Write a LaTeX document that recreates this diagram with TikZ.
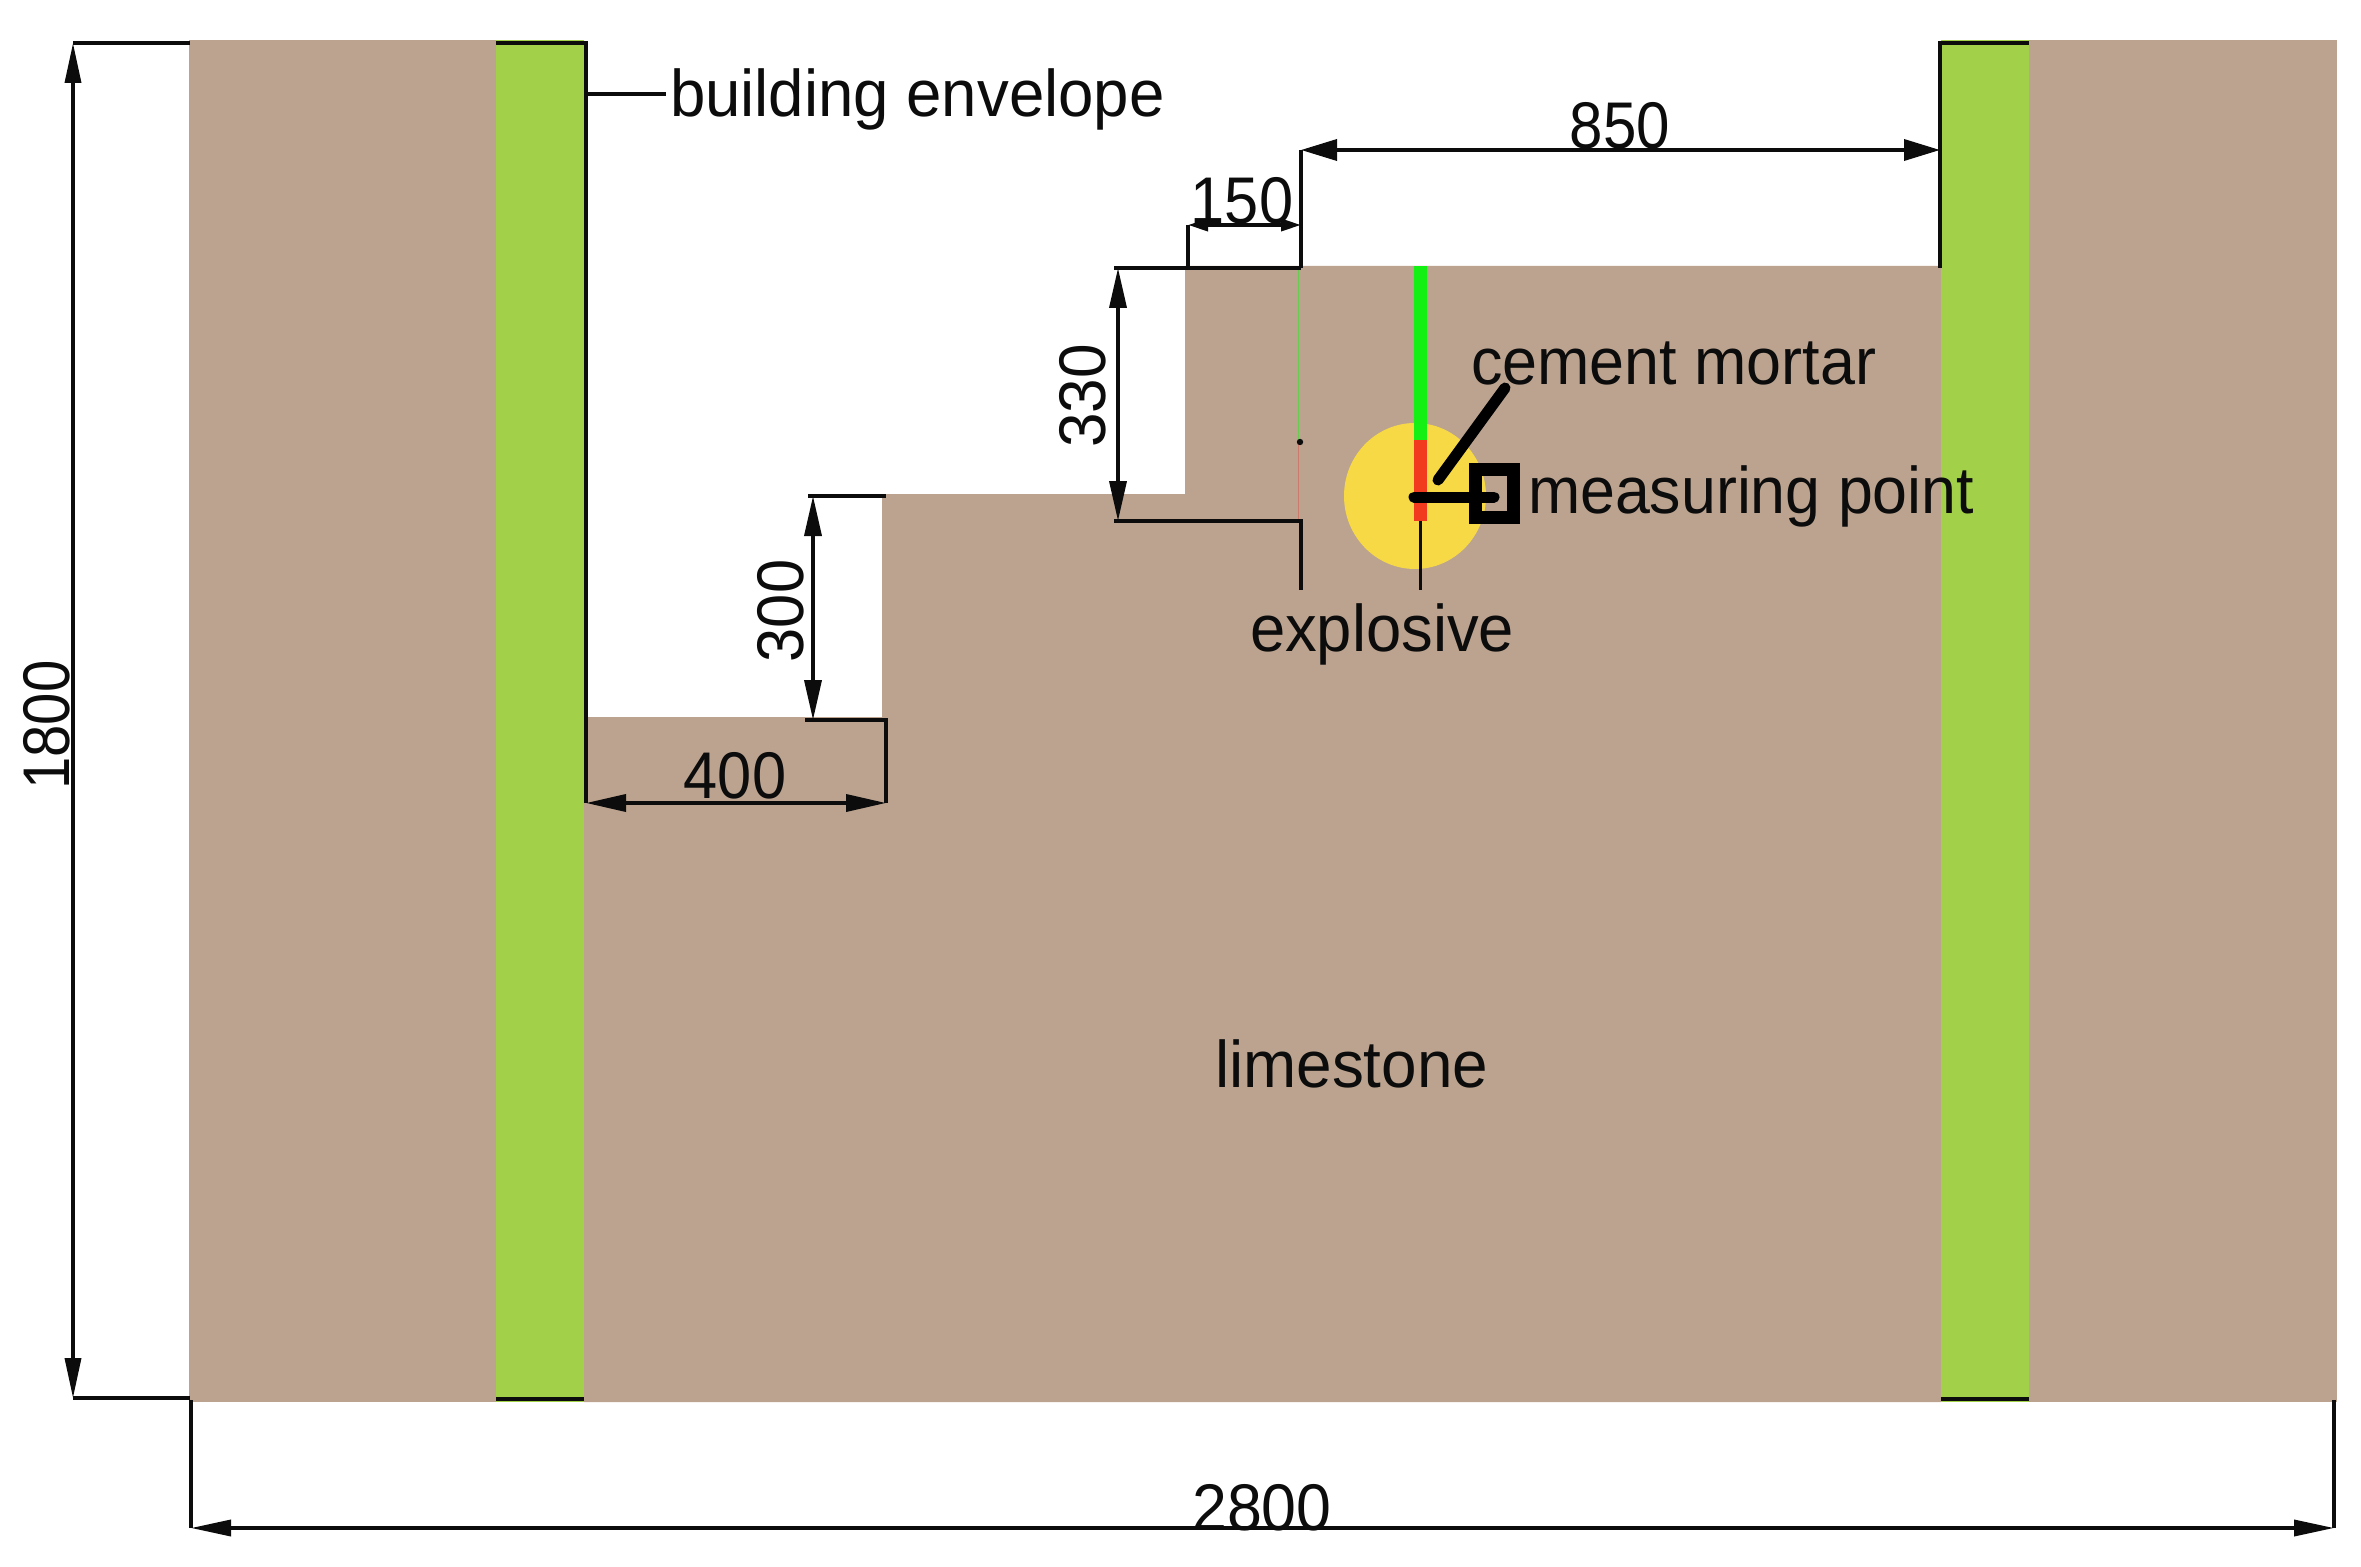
\documentclass[tikz,border=0pt]{standalone}
\usepackage{fontspec}
\setmainfont{Liberation Sans}
\usetikzlibrary{arrows.meta}
\definecolor{rock}{HTML}{BBA38F}
\definecolor{wall}{HTML}{A2D149}
\definecolor{charge}{HTML}{F7D945}
\definecolor{stemg}{HTML}{14F014}
\definecolor{stemr}{HTML}{F23A1E}
\definecolor{ink}{HTML}{0C0C0C}
\tikzset{
  dimline/.style={draw=ink,line width=1.8pt},
  dimbig/.style={dimline,{Triangle[length=20pt,width=8.5pt]}-{Triangle[length=20pt,width=8.5pt]}},
  dimwide/.style={dimline,{Triangle[length=18pt,width=10.5pt]}-{Triangle[length=18pt,width=10.5pt]}},
  dimsmall/.style={dimline,{Triangle[length=10pt,width=6pt]}-{Triangle[length=10pt,width=6pt]}},
  edgeline/.style={draw=ink,line width=2.2pt},
  thick leader/.style={draw=black,line width=5.5pt,line cap=round},
  lab/.style={inner sep=0pt,outer sep=0pt,text=ink,font=\fontsize{33}{40}\selectfont},
}
\newcommand{\sx}[2]{\scalebox{#1}[1]{#2}}
\begin{document}
\begin{tikzpicture}[x=0.5pt,y=-0.5pt]
\useasboundingbox (0,0) rectangle (2361,1567);
% rock
\fill[rock] (189,40) rectangle (496,1402);
\fill[rock] (584,717) -- (882,717) -- (882,494) -- (1185,494) -- (1185,266) -- (1941,266) -- (1941,1402) -- (584,1402) -- cycle;
\fill[rock] (2029,40) rectangle (2337,1402);
% walls
\fill[wall] (496,40) rectangle (584,1402);
\fill[wall] (1941,40) rectangle (2029,1402);
% faint construction line
\draw[line width=0.5pt,draw=green!45!rock] (1298,268) -- (1298,440);
\draw[line width=0.5pt,draw=red!25!rock] (1298,440) -- (1298,521);
\fill[ink] (1300,442) circle (1.6pt);
% explosive
\fill[charge] (1415,496) ellipse [x radius=71,y radius=73];
\fill[stemg] (1414,266) rectangle (1427,440);
\fill[stemr] (1414,440) rectangle (1427,521);
\draw[line width=1.5pt,draw=ink] (1420,521) -- (1420,590);
% wall edges
\draw[edgeline] (496,43) -- (586,43) -- (586,803);
\draw[edgeline] (496,1399) -- (584,1399);
\draw[edgeline] (2029,43) -- (1940,43) -- (1940,268);
\draw[edgeline] (1941,1399) -- (2029,1399);
% envelope leader
\coordinate (envs) at (586,94);
\node[lab,anchor=base west] (envelope) at (670,117) {\sx{.963}{building envelope}};
\draw[dimline] (envs) -- (666,94);
% 1800
\draw[dimline] (190,43) -- (73,43);
\draw[dimline] (190,1398) -- (73,1398);
\draw[dimbig,{Triangle[length=20pt,width=8pt]}-{Triangle[length=20pt,width=8pt]}] (73,43) -- (73,1398);
\node[lab,rotate=90] (d1800) at (47,725) {\sx{.88}{1800}};
% 2800
\draw[dimline] (191,1400) -- (191,1528);
\draw[dimline] (2334,1400) -- (2334,1528);
\draw[dimbig,{Triangle[length=20pt,width=8pt]}-{Triangle[length=20pt,width=8pt]}] (191,1528) -- (2334,1528);
\node[lab,anchor=base] (d2800) at (1262,1530) {\sx{.95}{2800}};
% 400
\draw[dimline] (805,720) -- (886,720) -- (886,803);
\draw[dimbig] (586,803) -- (886,803);
\node[lab,anchor=base] (d400) at (735,798) {\sx{.93}{400}};
% 300
\draw[dimline] (808,496) -- (886,496);
\draw[dimbig] (813,496) -- (813,720);
\node[lab,rotate=90] (d300) at (781,611) {\sx{.93}{300}};
% 330
\draw[dimline] (1114,268) -- (1301,268);
\draw[dimline] (1114,521) -- (1301,521) -- (1301,590);
\draw[dimbig] (1118,268) -- (1118,521);
\node[lab,rotate=90] (d330) at (1083,396) {\sx{.94}{330}};
% 150
\draw[dimline] (1188,268) -- (1188,225);
\draw[dimsmall] (1188,225) -- (1301,225);
\node[lab,anchor=base] (d150) at (1242,224) {\sx{.93}{150}};
% 850
\draw[dimline] (1301,268) -- (1301,150);
\draw[dimwide] (1301,150) -- (1940,150);
\node[lab,anchor=base] (d850) at (1620,149) {\sx{.91}{850}};
% leaders to measuring point
\draw[thick leader] (1438,480) -- (1505,388);
\draw[thick leader] (1414,497) -- (1494,497);
\draw[draw=black,line width=6.5pt] (1475,470) rectangle (1513,517);
% labels
\node[lab,anchor=base west] (mortar) at (1471,385) {\sx{.952}{cement mortar}};
\node[lab,anchor=base west] (point) at (1528,513) {\sx{.95}{measuring point}};
\node[lab,anchor=base west] (expl) at (1250,651) {\sx{.96}{explosive}};
\node[lab,anchor=base west] (lime) at (1215,1087) {\sx{.967}{limestone}};
\end{tikzpicture}
\end{document}
